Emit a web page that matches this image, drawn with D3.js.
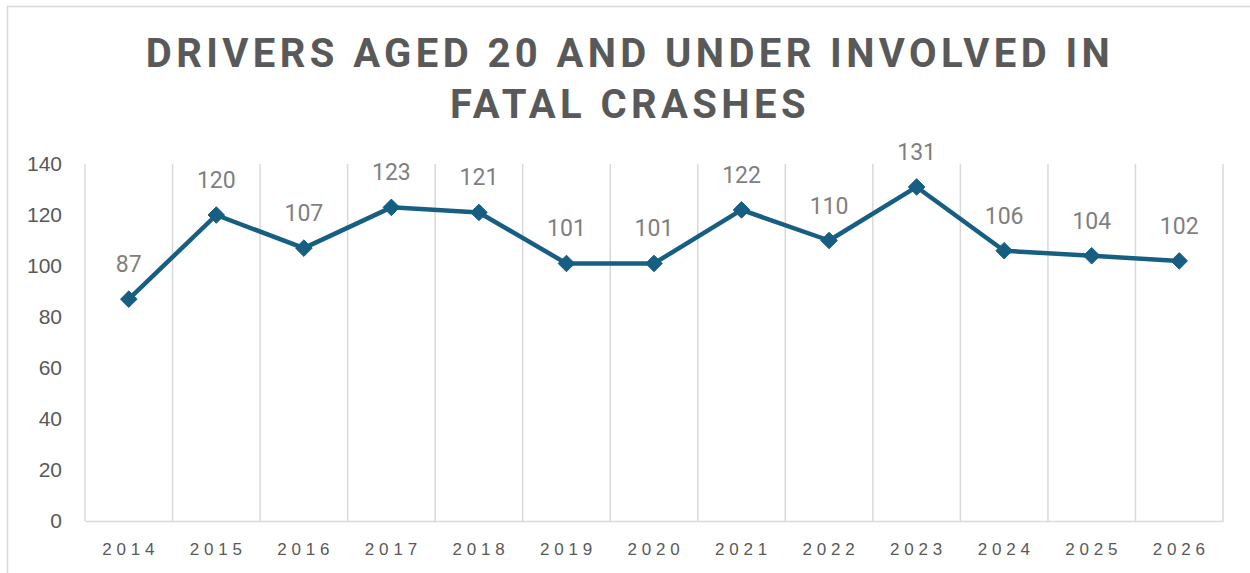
<!DOCTYPE html>
<html lang="en">
<head>
    <meta charset="UTF-8">
    <title>Drivers Aged 20 and Under Involved in Fatal Crashes</title>
    <script src="https://d3js.org/d3.v7.min.js"></script>
    <style>
        body { margin: 0; background: #fff; }
        svg { display: block; font-family: Roboto, "Liberation Sans", Arial, sans-serif; }
    </style>
</head>
<body>
    <div id="chart"></div>
    <script>
        const years = ["2014", "2015", "2016", "2017", "2018", "2019", "2020", "2021", "2022", "2023", "2024", "2025", "2026"];
        const drivers = [87, 120, 107, 123, 121, 101, 101, 122, 110, 131, 106, 104, 102];
        const yTicks = [0, 20, 40, 60, 80, 100, 120, 140];
        const titleLines = ["DRIVERS AGED 20 AND UNDER INVOLVED IN", "FATAL CRASHES"];

        const width = 1250, height = 573;
        const margin = { top: 164, right: 27, bottom: 52, left: 85 };

        const svg = d3.select("#chart").append("svg")
            .attr("width", width).attr("height", height);

        // chart frame (only top/left edges show in the window)
        svg.append("rect")
            .attr("x", 7.5).attr("y", 6.5)
            .attr("width", 1260).attr("height", 600)
            .attr("fill", "none").attr("stroke", "#d9d9d9").attr("stroke-width", 1.5);

        svg.append("g").selectAll("text")
            .data(titleLines)
            .enter().append("text")
            .attr("x", 630)
            .attr("y", (d, i) => 67 + i * 51)
            .attr("text-anchor", "middle")
            .attr("fill", "#595959")
            .attr("font-size", 40)
            .attr("font-weight", "bold")
            .attr("letter-spacing", 4.4)
            .text(d => d);

        const x = d3.scaleBand()
            .domain(years)
            .range([margin.left, width - margin.right]);

        const y = d3.scaleLinear()
            .domain([0, 140])
            .range([height - margin.bottom, margin.top]);

        // vertical gridlines at category boundaries
        const bounds = years.map(d => x(d)).concat([x.range()[1]]);
        svg.append("g").selectAll("line")
            .data(bounds)
            .enter().append("line")
            .attr("x1", d => d).attr("x2", d => d)
            .attr("y1", y(140)).attr("y2", y(0))
            .attr("stroke", "#d9d9d9").attr("stroke-width", 1.5);

        // x axis
        const xAxis = svg.append("g")
            .attr("transform", `translate(0,${y(0)})`)
            .call(d3.axisBottom(x).tickSize(0).tickPadding(22));
        xAxis.select(".domain").attr("stroke", "#d9d9d9").attr("stroke-width", 1.5);
        xAxis.selectAll("text")
            .attr("fill", "#595959")
            .attr("font-size", 17)
            .attr("letter-spacing", 4.8)
            .attr("dx", 2);

        // y axis
        const yAxis = svg.append("g")
            .attr("transform", `translate(${margin.left},0)`)
            .call(d3.axisLeft(y).tickValues(yTicks).tickSize(0).tickPadding(23));
        yAxis.select(".domain").remove();
        yAxis.selectAll("text")
            .attr("fill", "#595959")
            .attr("font-size", 21);

        const cx = d => x(d) + x.bandwidth() / 2;
        const pts = years.map((d, i) => ({ year: d, value: drivers[i] }));

        svg.append("path")
            .datum(pts)
            .attr("fill", "none")
            .attr("stroke", "#175f82")
            .attr("stroke-width", 4.5)
            .attr("stroke-linejoin", "round")
            .attr("d", d3.line().x(d => cx(d.year)).y(d => y(d.value)));

        svg.append("g").selectAll("path")
            .data(pts)
            .enter().append("path")
            .attr("transform", d => `translate(${cx(d.year)},${y(d.value)})`)
            .attr("d", d3.symbol().type(d3.symbolDiamond2).size(175))
            .attr("fill", "#175f82")
            .attr("stroke", "#175f82")
            .attr("stroke-width", 1);

        svg.append("g").selectAll("text")
            .data(pts)
            .enter().append("text")
            .attr("x", d => cx(d.year))
            .attr("y", d => y(d.value) - 27)
            .attr("text-anchor", "middle")
            .attr("fill", "#7f7f7f")
            .attr("font-size", 23)
            .text(d => d.value);
    </script>
</body>
</html>
